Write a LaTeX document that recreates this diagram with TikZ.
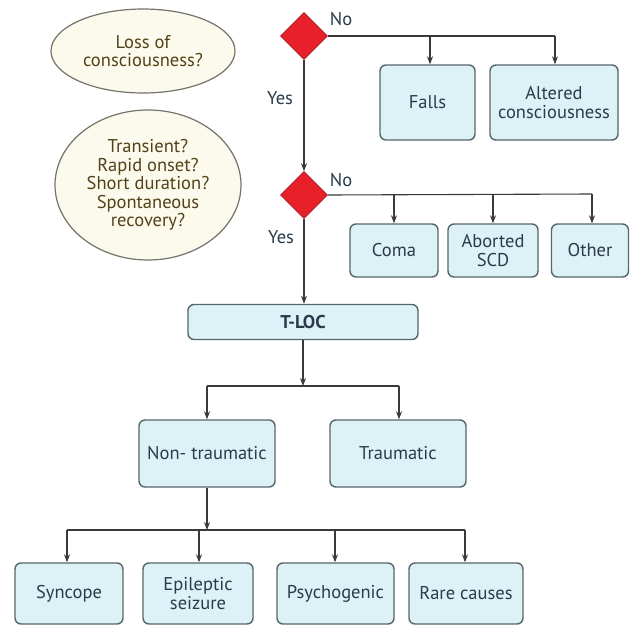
\documentclass[tikz,border=0pt]{standalone}
\usepackage{fontspec}
\setmainfont{PT Sans}
\usetikzlibrary{shapes.geometric,arrows.meta}
\definecolor{boxfill}{HTML}{DDF2F7}
\definecolor{boxdraw}{HTML}{56666C}
\definecolor{boxtext}{HTML}{2B3B4B}
\definecolor{ellfill}{HTML}{FCFAEC}
\definecolor{elldraw}{HTML}{74746A}
\definecolor{elltext}{HTML}{524218}
\definecolor{dred}{HTML}{E8202A}
\definecolor{lncol}{HTML}{3A3A3A}
\tikzset{
  cbox/.style={draw=boxdraw, fill=boxfill, line width=1.4pt, rounded corners=6pt,
    text=boxtext, align=center, inner sep=0pt, font=\fontsize{18.5}{19}\selectfont},
  qell/.style={ellipse, draw=elldraw, fill=ellfill, line width=1.2pt, text=elltext,
    align=center, inner sep=0pt, font=\fontsize{18.5}{18.5}\selectfont},
  dec/.style={diamond, draw=dred!70!black, fill=dred, line width=0.6pt, minimum size=47pt, inner sep=0pt},
  lbl/.style={text=boxtext, font=\fontsize{18.5}{19}\selectfont, inner sep=0pt},
  ln/.style={draw=lncol, line width=1.1pt},
  arr/.style={ln, -{Stealth[length=8pt,width=6pt]}}
}
\begin{document}
\begin{tikzpicture}[x=1pt,y=-1pt]
\useasboundingbox (0,0) rectangle (630,627);
\fill[white] (0,0) rectangle (630,627);
% ellipses
\node[qell, minimum width=184pt, minimum height=84pt] (e1) at (143,51) {Loss of\\consciousness?};
\node[qell, minimum width=186pt, minimum height=150pt] (e2) at (148,185) {Transient?\\Rapid onset?\\Short duration?\\Spontaneous\\recovery?};
% diamonds
\node[dec] (d1) at (304,36) {};
\node[dec] (d2) at (304,195) {};
\node[lbl] (no1) at (341,19) {No};
\node[lbl] (no2) at (341,180) {No};
\node[lbl] (yes1) at (280,98) {Yes};
\node[lbl] (yes2) at (281,237) {Yes};
% first row
\node[cbox, minimum width=95pt, minimum height=75pt] (falls) at (427.5,102.5) {Falls};
\node[cbox, minimum width=128pt, minimum height=75pt] (alt) at (554,102.5) {Altered\\consciousness};
% second row
\node[cbox, minimum width=88pt, minimum height=53pt] (coma) at (394,250.5) {Coma};
\node[cbox, minimum width=90pt, minimum height=53pt] (scd) at (493,250.5) {Aborted\\SCD};
\node[cbox, minimum width=77pt, minimum height=53pt] (other) at (590,250.5) {Other};
% T-LOC
\node[cbox, minimum width=230pt, minimum height=35pt, font=\fontsize{18.5}{19}\selectfont\bfseries] (tloc) at (303,322) {T-LOC};
\node[cbox, minimum width=136pt, minimum height=67pt] (nontr) at (207,453.5) {Non- traumatic};
\node[cbox, minimum width=136pt, minimum height=67pt] (trau) at (398,453.5) {Traumatic};
% bottom row
\node[cbox, minimum width=108pt, minimum height=61pt] (sync) at (69,593.5) {Syncope};
\node[cbox, minimum width=110pt, minimum height=61pt] (epi) at (198,593.5) {Epileptic\\seizure};
\node[cbox, minimum width=117pt, minimum height=61pt] (psy) at (335.5,593.5) {Psychogenic};
\node[cbox, minimum width=114pt, minimum height=61pt] (rare) at (466,593.5) {Rare causes};
% junction coordinates
\coordinate (j1a) at (430,36);
\coordinate (j1b) at (555,36);
\coordinate (j2a) at (394,194);
\coordinate (j2b) at (493,194);
\coordinate (j2c) at (592,194);
\coordinate (j3) at (303,386);
\coordinate (j3a) at (207,386);
\coordinate (j3b) at (399,386);
\coordinate (j4) at (207,530);
\coordinate (j4a) at (67,530);
\coordinate (j4b) at (199,530);
\coordinate (j4c) at (335,530);
\coordinate (j4d) at (465,530);
% connectors
\draw[ln] (d1.east) -- (j1b);
\draw[arr] (j1a) -- (j1a |- falls.north);
\draw[arr] (j1b) -- (j1b |- alt.north);
\draw[arr] (d1.south) -- (d2.north);
\draw[ln] (d2.east) -- (j2c);
\draw[arr] (j2a) -- (j2a |- coma.north);
\draw[arr] (j2b) -- (j2b |- scd.north);
\draw[arr] (j2c) -- (j2c |- other.north);
\draw[arr] (d2.south) -- (d2.south |- tloc.north);
\draw[arr] (tloc.south) -- (j3);
\draw[ln] (j3a) -- (j3b);
\draw[arr] (j3a) -- (nontr.north);
\draw[arr] (j3b) -- (j3b |- trau.north);
\draw[arr] (nontr.south) -- (j4);
\draw[ln] (j4a) -- (j4d);
\draw[arr] (j4a) -- (j4a |- sync.north);
\draw[arr] (j4b) -- (j4b |- epi.north);
\draw[arr] (j4c) -- (j4c |- psy.north);
\draw[arr] (j4d) -- (j4d |- rare.north);
\end{tikzpicture}
\end{document}
